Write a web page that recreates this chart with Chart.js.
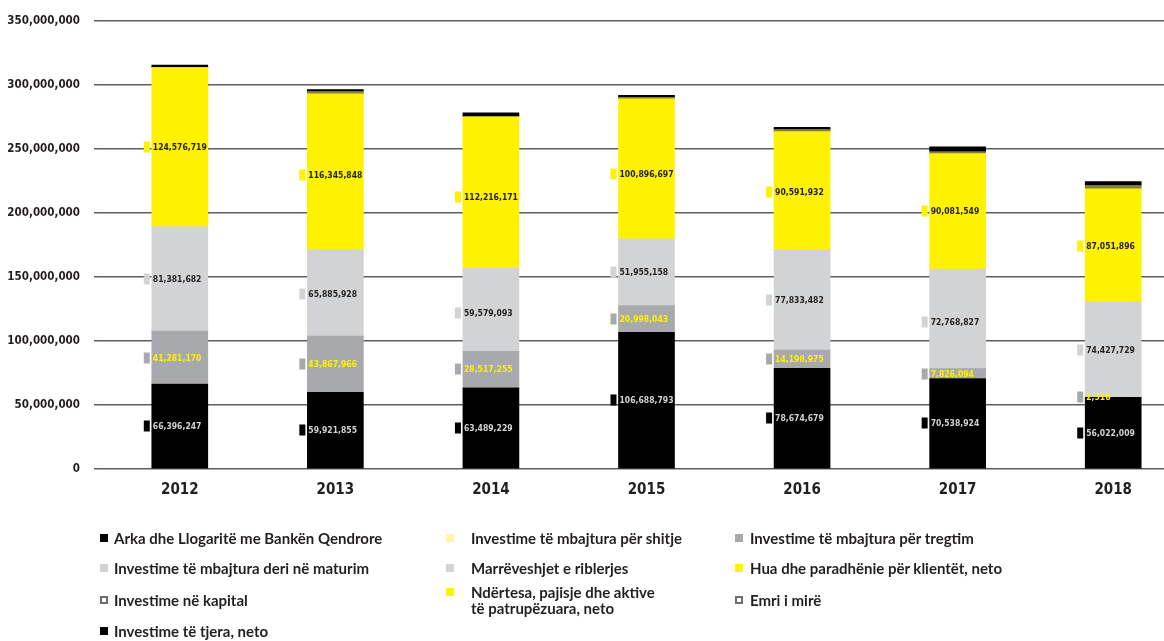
<!DOCTYPE html>
<html>
<head>
<meta charset="utf-8">
<script src="https://cdn.jsdelivr.net/npm/chart.js@4.4.0/dist/chart.umd.min.js"></script>
<style>
  html, body {
    margin: 0;
    padding: 0;
    background: #ffffff;
    width: 1164px;
    height: 641px;
    overflow: hidden;
  }
  #assetsChart {
    position: absolute;
    left: 0;
    top: 0;
  }
  #legend {
    position: absolute;
    left: 0;
    top: 0;
    width: 1164px;
    height: 641px;
    font-family: Lato, "Noto Sans", sans-serif;
    font-weight: 700;
    font-size: 15px;
    color: #231f20;
  }
  .legend-item {
    position: absolute;
    white-space: pre;
    line-height: 16px;
  }
  .legend-mark {
    position: absolute;
    width: 8px;
    height: 8px;
    box-sizing: border-box;
  }
</style>
</head>
<body>
<canvas id="assetsChart" width="1191" height="513"></canvas>
<div id="legend"></div>
<script>
// Years on the category axis
const years = ["2012", "2013", "2014", "2015", "2016", "2017", "2018"];

// Asset groups, in lek
const arka = [66396247, 59921855, 63489229, 106688793, 78674679, 70538924, 56022009];
const perShitje = [0, 0, 0, 0, 0, 0, 0];
const perTregtim = [41281170, 43867966, 28517255, 20998043, 14198975, 7826094, 2516];
const deriMaturim = [81381682, 65885928, 59579093, 51955158, 77833482, 72768827, 74427729];
const riblerjes = [0, 1800000, 5100000, 0, 0, 5000000, 0];
const huaKlientet = [124576719, 116345848, 112216171, 100896697, 90591932, 90081549, 87051896];
const kapital = [0, 1600000, 0, 1300000, 1600000, 1600000, 2600000];
const ndertesa = [0, 5300000, 6200000, 8500000, 2200000, 0, 1300000];
const emriMire = [0, 0, 0, 0, 0, 0, 0];
const teTjera = [1800000, 1600000, 3000000, 1500000, 1800000, 3900000, 3100000];

// Value axis ticks
const yTickValues = [0, 50000000, 100000000, 150000000, 200000000, 250000000, 300000000, 350000000];

const BLACK = "#000000";
const YELLOW = "#fff200";
const MID_GREY = "#a7a9ac";
const LIGHT_GREY = "#d1d3d4";
const INK = "#231f20";
const CONDENSED = "'DejaVu Sans Condensed', 'DejaVu Sans', sans-serif";

// stacking order bottom -> top; labelColor marks the groups that get value labels
const series = [
  { key: "arka", label: "Arka dhe Llogaritë me Bankën Qendrore", data: arka, color: BLACK, labelColor: LIGHT_GREY, mark: "solid" },
  { key: "shitje", label: "Investime të mbajtura për shitje", data: perShitje, color: "#fff7a8", mark: "solid" },
  { key: "tregtim", label: "Investime të mbajtura për tregtim", data: perTregtim, color: MID_GREY, labelColor: YELLOW, mark: "solid" },
  { key: "maturim", label: "Investime të mbajtura deri në maturim", data: deriMaturim, color: LIGHT_GREY, labelColor: INK, mark: "solid" },
  { key: "riblerjes", label: "Marrëveshjet e riblerjes", data: riblerjes, color: LIGHT_GREY, mark: "solid" },
  { key: "hua", label: "Hua dhe paradhënie për klientët, neto", data: huaKlientet, color: YELLOW, labelColor: INK, mark: "solid" },
  { key: "ndertesa", label: "Ndërtesa, pajisje dhe aktive\ntë patrupëzuara, neto", data: ndertesa, color: YELLOW, mark: "solid" },
  { key: "kapital", label: "Investime në kapital", data: kapital, color: "#85803e", mark: "hollow" },
  { key: "emri", label: "Emri i mirë", data: emriMire, color: "#6d6e71", mark: "hollow" },
  { key: "tjera", label: "Investime të tjera, neto", data: teTjera, color: BLACK, mark: "solid" },
];

// legend reads row by row, three columns
const legendOrder = ["arka", "shitje", "tregtim", "maturim", "riblerjes", "hua", "kapital", "ndertesa", "emri", "tjera"];
const legendCols = [
  { mark: 100, text: 114 },
  { mark: 446, text: 471 },
  { mark: 735, text: 750 },
];
const legendRows = [538, 568, 600, 631];

const fmt = (v) => v.toLocaleString("en-US");

// value labels with a small colour key at the left side of each bar
const valueLabels = {
  id: "valueLabels",
  afterDatasetsDraw(chart) {
    const ctx = chart.ctx;
    ctx.save();
    ctx.font = "bold 9.5px " + CONDENSED;
    ctx.textBaseline = "middle";
    ctx.textAlign = "left";
    chart.data.datasets.forEach((ds, i) => {
      if (!ds.labelColor) return;
      const meta = chart.getDatasetMeta(i);
      meta.data.forEach((bar, j) => {
        const left = bar.x - bar.width / 2;
        const y = Math.round((bar.y + bar.base) / 2);
        ctx.fillStyle = ds.backgroundColor;
        ctx.fillRect(left - 8, y - 5.5, 6, 11);
        ctx.fillStyle = ds.labelColor;
        // squeeze the digits a little so long values stay inside the bar
        ctx.save();
        ctx.translate(left + 1, y + 0.5);
        ctx.scale(0.9, 1);
        ctx.fillText(fmt(ds.data[j]), 0, 0);
        ctx.restore();
      });
    });
    ctx.restore();
  },
};

const ctx = document.getElementById("assetsChart").getContext("2d");
const chart = new Chart(ctx, {
  type: "bar",
  data: {
    labels: years,
    datasets: series.map((s) => ({
      label: s.label,
      data: s.data,
      backgroundColor: s.color,
      labelColor: s.labelColor,
      borderWidth: 0,
      barThickness: 56,
    })),
  },
  options: {
    responsive: false,
    animation: false,
    layout: {
      padding: { top: 16, bottom: 2, left: 0, right: 0 },
    },
    plugins: {
      legend: { display: false },
      tooltip: { enabled: false },
    },
    scales: {
      x: {
        stacked: true,
        grid: { display: false, drawTicks: false },
        border: { display: false },
        ticks: {
          color: INK,
          padding: 12,
          font: { family: CONDENSED, weight: "bold", size: 15 },
        },
      },
      y: {
        stacked: true,
        min: 0,
        max: yTickValues[yTickValues.length - 1],
        afterBuildTicks: (scale) => {
          scale.ticks = yTickValues.map((v) => ({ value: v }));
        },
        afterFit: (scale) => {
          scale.width = 102;
        },
        grid: {
          color: "#5e5e60",
          lineWidth: 1.5,
          tickLength: 8,
          drawTicks: true,
        },
        border: { display: false },
        ticks: {
          color: INK,
          padding: 14,
          callback: (v) => fmt(v),
          font: { family: CONDENSED, weight: "bold", size: 11.5 },
        },
      },
    },
  },
  plugins: [valueLabels],
});

// HTML legend built from the series list
const legendBox = document.getElementById("legend");
legendOrder.forEach((key, i) => {
  const s = series.find((item) => item.key === key);
  const col = legendCols[i % 3];
  const rowY = legendRows[Math.floor(i / 3)];
  const lines = s.label.split("\n").length;
  const top = rowY - (lines * 16) / 2;

  const item = document.createElement("div");
  item.className = "legend-item";
  item.style.left = col.text + "px";
  item.style.top = top + "px";
  item.textContent = s.label;
  legendBox.appendChild(item);

  const mark = document.createElement("div");
  mark.className = "legend-mark";
  mark.style.left = col.mark + "px";
  mark.style.top = top + 4 + "px";
  if (s.mark === "hollow") {
    mark.style.border = "2px solid #6d6e71";
    mark.style.background = "#ffffff";
  } else {
    mark.style.background = s.color;
  }
  legendBox.appendChild(mark);
});
</script>
</body>
</html>
